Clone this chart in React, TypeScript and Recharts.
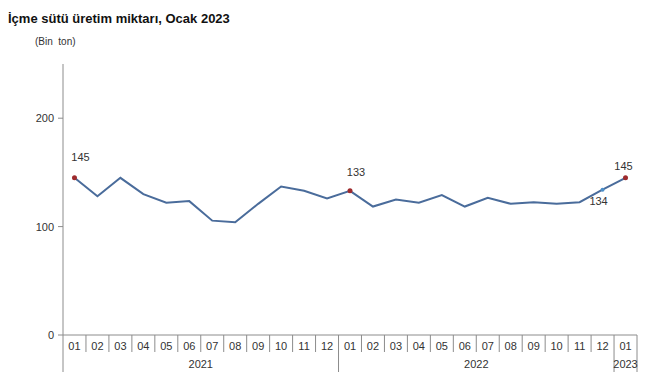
import { LineChart, Line, XAxis, YAxis } from "recharts";

// Aylar, yıllar ve değerler (bin ton)
const months = [
  "01", "02", "03", "04", "05", "06", "07", "08", "09", "10", "11", "12",
  "01", "02", "03", "04", "05", "06", "07", "08", "09", "10", "11", "12",
  "01",
];
const years = [
  "2021", "2021", "2021", "2021", "2021", "2021", "2021", "2021", "2021", "2021", "2021", "2021",
  "2022", "2022", "2022", "2022", "2022", "2022", "2022", "2022", "2022", "2022", "2022", "2022",
  "2023",
];
const values = [
  145, 128, 145, 130, 122, 123.5, 105.5, 104, 121, 137, 133, 126,
  133, 118.5, 125, 122, 129, 118.5, 126.5, 121, 122.5, 121, 122.5, 134,
  145,
];
const yTicks = [0, 100, 200];

// Etiket gösterilen noktalar
const redPoints = [0, 12, 24];
const bluePoints = [23];
const labelled = [0, 12, 23, 24];

const LINE = "#4A6C9B";
const RED = "#9E2B2E";
const BLUE = "#4C8FC8";
const AXIS = "#8c8c8c";
const FONT = "Liberation Sans, Arial, sans-serif";

// label offsets relative to the point
const labelDx: Record<number, number> = { 0: 6, 12: 6, 23: -4, 24: -2 };
const labelDy: Record<number, number> = { 0: -17, 12: -15, 23: 15, 24: -8 };

const data = months.map((m, i) => ({
  key: `${years[i]}-${m}`,
  month: m,
  year: years[i],
  value: values[i],
}));

function MonthTick(props: any) {
  const { x, y, payload, index } = props;
  const half = payload.offset ?? 11.5;
  const left = x - half;
  const month = months[index];
  const isYearStart = index === 0 || years[index] !== years[index - 1];
  const isLast = index === months.length - 1;
  let yearLabel = null;
  if (isYearStart) {
    const n = years.filter((yy) => yy === years[index]).length;
    yearLabel = (
      <text
        x={left + n * half}
        y={y + 33}
        textAnchor="middle"
        fontSize={11}
        fill="#333"
        fontFamily={FONT}
      >
        {years[index]}
      </text>
    );
  }
  return (
    <g>
      <line x1={left} y1={y} x2={left} y2={y + (isYearStart ? 37 : 17)} stroke={AXIS} />
      {isLast && <line x1={x + half} y1={y} x2={x + half} y2={y + 37} stroke={AXIS} />}
      <text x={x} y={y + 15} textAnchor="middle" fontSize={11} fill="#333" fontFamily={FONT}>
        {month}
      </text>
      {yearLabel}
    </g>
  );
}

function Dot(props: any) {
  const { cx, cy, index } = props;
  if (redPoints.includes(index)) {
    return <circle key={index} cx={cx} cy={cy} r={2.5} fill={RED} />;
  }
  if (bluePoints.includes(index)) {
    return <circle key={index} cx={cx} cy={cy} r={2} fill={BLUE} />;
  }
  return <g key={index} />;
}

function PointLabel(props: any) {
  const { x, y, index, value } = props;
  if (!labelled.includes(index)) return null;
  return (
    <text
      x={x + labelDx[index]}
      y={y + labelDy[index]}
      textAnchor="middle"
      fontSize={11}
      fill="#333"
      fontFamily={FONT}
    >
      {Math.round(value)}
    </text>
  );
}

export default function App() {
  return (
    <div
      style={{
        position: "absolute",
        left: 0,
        top: 0,
        width: 660,
        height: 390,
        background: "#fff",
        fontFamily: FONT,
      }}
    >
      <div
        style={{
          position: "absolute",
          left: 8,
          top: 11,
          fontSize: 13,
          fontWeight: "bold",
          color: "#111",
        }}
      >
        İçme sütü üretim miktarı, Ocak 2023
      </div>
      <div style={{ position: "absolute", left: 35, top: 36, fontSize: 10, color: "#333" }}>
        (Bin&nbsp;&nbsp;ton)
      </div>
      <LineChart
        width={660}
        height={390}
        data={data}
        margin={{ top: 64, right: 23, bottom: 15, left: 0 }}
      >
        <XAxis
          dataKey="key"
          scale="band"
          interval={0}
          height={40}
          tickLine={false}
          tickSize={0}
          tickMargin={0}
          stroke={AXIS}
          tick={<MonthTick />}
        />
        <YAxis
          width={63}
          domain={[0, 250]}
          ticks={yTicks}
          tickSize={5}
          tickMargin={4}
          stroke={AXIS}
          tick={{ fontSize: 11, fill: "#333", fontFamily: FONT }}
        />
        <Line
          dataKey="value"
          stroke={LINE}
          strokeWidth={2}
          dot={<Dot />}
          activeDot={false}
          label={<PointLabel />}
          isAnimationActive={false}
        />
      </LineChart>
    </div>
  );
}
